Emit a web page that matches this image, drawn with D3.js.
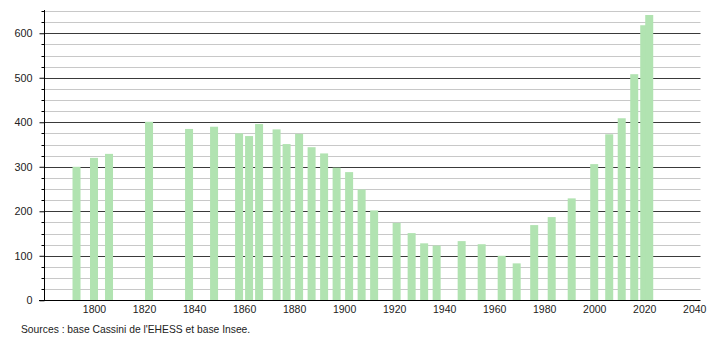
<!DOCTYPE html>
<html>
<head>
<meta charset="utf-8">
<script src="https://cdn.jsdelivr.net/npm/d3@7"></script>
<style>
  html, body { margin: 0; padding: 0; background: #fff; }
  svg { display: block; font-family: "Liberation Sans", Arial, sans-serif; }
</style>
</head>
<body>
<svg id="chart" width="710" height="340"></svg>
<script>
const years = [1793, 1800, 1806, 1822, 1838, 1848, 1858, 1862, 1866, 1873, 1877, 1882, 1887, 1892, 1897, 1902, 1907, 1912, 1921, 1927, 1932, 1937, 1947, 1955, 1963, 1969, 1976, 1983, 1991, 2000, 2006, 2011, 2016, 2020, 2022];
const population = [300, 320, 329, 401, 385, 390, 375, 369, 396, 384, 351, 374, 344, 330, 298, 288, 249, 202, 174, 151, 128, 123, 133, 126, 100, 83, 169, 187, 229, 306, 373, 409, 508, 618, 641];
const xTicks = [1800, 1820, 1840, 1860, 1880, 1900, 1920, 1940, 1960, 1980, 2000, 2020, 2040];
const yTicks = [0, 100, 200, 300, 400, 500, 600];
const sourceText = "Sources : base Cassini de l'EHESS et base Insee.";

const svg = d3.select("#chart");
const pLeft = 44, pRight = 700.5, pTop = 11, pBottom = 300.3;

const x = d3.scaleLinear().domain([1780, 2042.5]).range([pLeft, pRight]);
const y = d3.scaleLinear().domain([0, 650]).range([pBottom, pTop]);

// minor grid
const minor = d3.range(25, 651, 25).filter(v => v % 100 !== 0);
svg.append("g").selectAll("line").data(minor).join("line")
  .attr("x1", pLeft).attr("x2", pRight)
  .attr("y1", d => Math.round(y(d)) + 0.5).attr("y2", d => Math.round(y(d)) + 0.5)
  .attr("stroke", "#c8c8c8").attr("stroke-width", 1);
// major grid
svg.append("g").selectAll("line").data(yTicks.filter(v => v > 0)).join("line")
  .attr("x1", pLeft).attr("x2", pRight)
  .attr("y1", d => Math.round(y(d)) + 0.5).attr("y2", d => Math.round(y(d)) + 0.5)
  .attr("stroke", "#3a3a3a").attr("stroke-width", 1);

// bars
const halfW = 1.6;
svg.append("g").selectAll("rect").data(years.map((yr, i) => ({yr, v: population[i]}))).join("rect")
  .attr("x", d => x(d.yr - halfW))
  .attr("width", d => x(d.yr + halfW) - x(d.yr - halfW))
  .attr("y", d => y(d.v))
  .attr("height", d => y(0) - y(d.v))
  .attr("fill", "#b1e3b1");

// y axis
const yAxis = d3.axisLeft(y).tickValues(yTicks).tickSize(5).tickPadding(7).tickSizeOuter(0);
const gy = svg.append("g").attr("transform", `translate(${pLeft + 0.5},0)`).call(yAxis);
gy.select(".domain").attr("d", `M0,${pTop - 1}V${pBottom}`).attr("stroke", "#000");
gy.selectAll(".tick line").attr("stroke", "#000");
gy.selectAll("text").attr("font-size", 10.8).attr("fill", "#222")
  .attr("font-family", "'Liberation Sans', Arial, sans-serif");
// minor y ticks
svg.append("g").selectAll("line").data(minor).join("line")
  .attr("x1", pLeft - 2.5).attr("x2", pLeft)
  .attr("y1", d => Math.round(y(d)) + 0.5).attr("y2", d => Math.round(y(d)) + 0.5)
  .attr("stroke", "#000");

// x axis
const xAxis = d3.axisBottom(x).tickValues(xTicks).tickFormat(d3.format("d")).tickSize(0).tickPadding(5);
const gx = svg.append("g").attr("transform", `translate(0,${Math.round(pBottom) + 0.5})`).call(xAxis);
gx.select(".domain").attr("d", `M39,0H${pRight}`).attr("stroke", "#000");
gx.selectAll("text").attr("font-size", 10.5).attr("fill", "#222")
  .attr("font-family", "'Liberation Sans', Arial, sans-serif");

// source
svg.append("text").attr("x", 21).attr("y", 333)
  .attr("font-size", 10.3).attr("fill", "#222").text(sourceText);
</script>
</body>
</html>
